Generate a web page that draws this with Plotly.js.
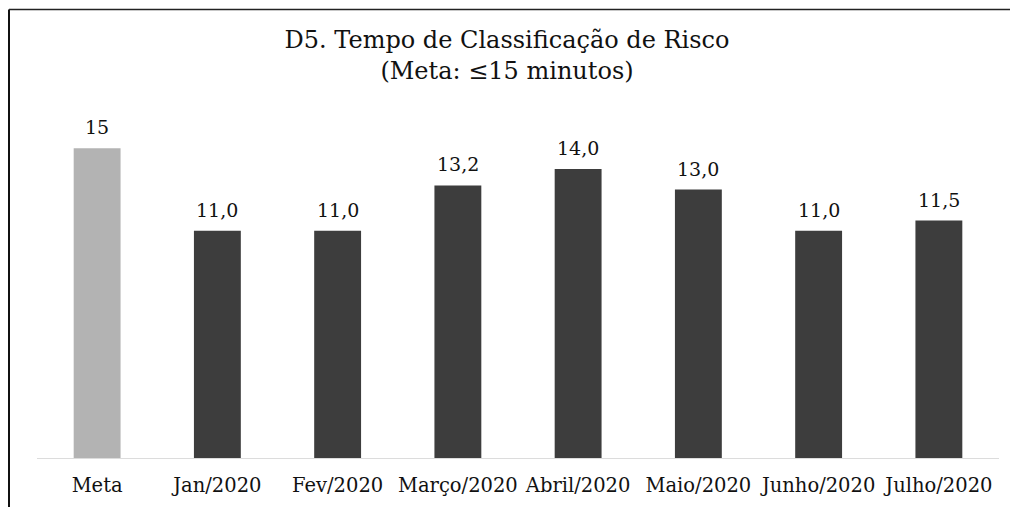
<!DOCTYPE html>
<html>
<head>
<meta charset="utf-8">
<script src="https://cdn.plot.ly/plotly-3.0.1.min.js"></script>
<style>html,body{margin:0;padding:0;background:#fff}#chart{width:1014px;height:507px}</style>
</head>
<body>
<div id="chart"></div>
<script>
const categories = ["Meta","Jan/2020","Fev/2020","Março/2020","Abril/2020","Maio/2020","Junho/2020","Julho/2020"];
const values = [15, 11.0, 11.0, 13.2, 14.0, 13.0, 11.0, 11.5];
const valueLabels = ["15","11,0","11,0","13,2","14,0","13,0","11,0","11,5"];
const barColors = ["#b3b3b3","#3d3d3d","#3d3d3d","#3d3d3d","#3d3d3d","#3d3d3d","#3d3d3d","#3d3d3d"];

const W = 1014, Hh = 507;
const m = {l: 37, r: 15, t: 130, b: 49};
const pw = W - m.l - m.r, ph = Hh - m.t - m.b;
const px = x => (x - m.l) / pw;
const py = y => (Hh - m.b - y) / ph;

const serif = "DejaVu Serif, Georgia, serif";

const trace = {
  type: "bar",
  x: categories,
  y: values,
  marker: {color: barColors, line: {width: 0}},
  hoverinfo: "none"
};

const annotations = categories.map((c, i) => ({
  x: c, y: values[i], xref: "x", yref: "y",
  text: valueLabels[i], showarrow: false,
  yanchor: "bottom", yshift: 8,
  font: {family: serif, size: 19, color: "#111"}
}));

const layout = {
  width: W, height: Hh,
  margin: m,
  paper_bgcolor: "#fff", plot_bgcolor: "#fff",
  showlegend: false,
  bargap: 0.61,
  title: {
    text: "D5. Tempo de Classificação de Risco<br>(Meta: ≤15 minutos)",
    x: 0.5, xanchor: "center", y: 0.905, yanchor: "top",
    font: {family: serif, size: 24, color: "#111"}
  },
  xaxis: {
    type: "category",
    showgrid: false, zeroline: false,
    showline: true, linecolor: "#dcdcdc", linewidth: 1,
    ticks: "", ticklabelstandoff: 10,
    tickfont: {family: serif, size: 19.5, color: "#111"}
  },
  yaxis: {
    range: [0, ph / 20.65],
    showgrid: false, zeroline: false, showline: false,
    showticklabels: false, ticks: ""
  },
  annotations: annotations,
  shapes: [
    {type: "line", xref: "paper", yref: "paper", x0: px(9), x1: px(9), y0: py(9.5), y1: py(520), line: {color: "#111", width: 2}},
    {type: "line", xref: "paper", yref: "paper", x0: px(9), x1: px(1010), y0: py(9.5), y1: py(9.5), line: {color: "#222", width: 1.5}}
  ]
};

Plotly.newPlot("chart", [trace], layout, {displayModeBar: false, staticPlot: true});
</script>
</body>
</html>
